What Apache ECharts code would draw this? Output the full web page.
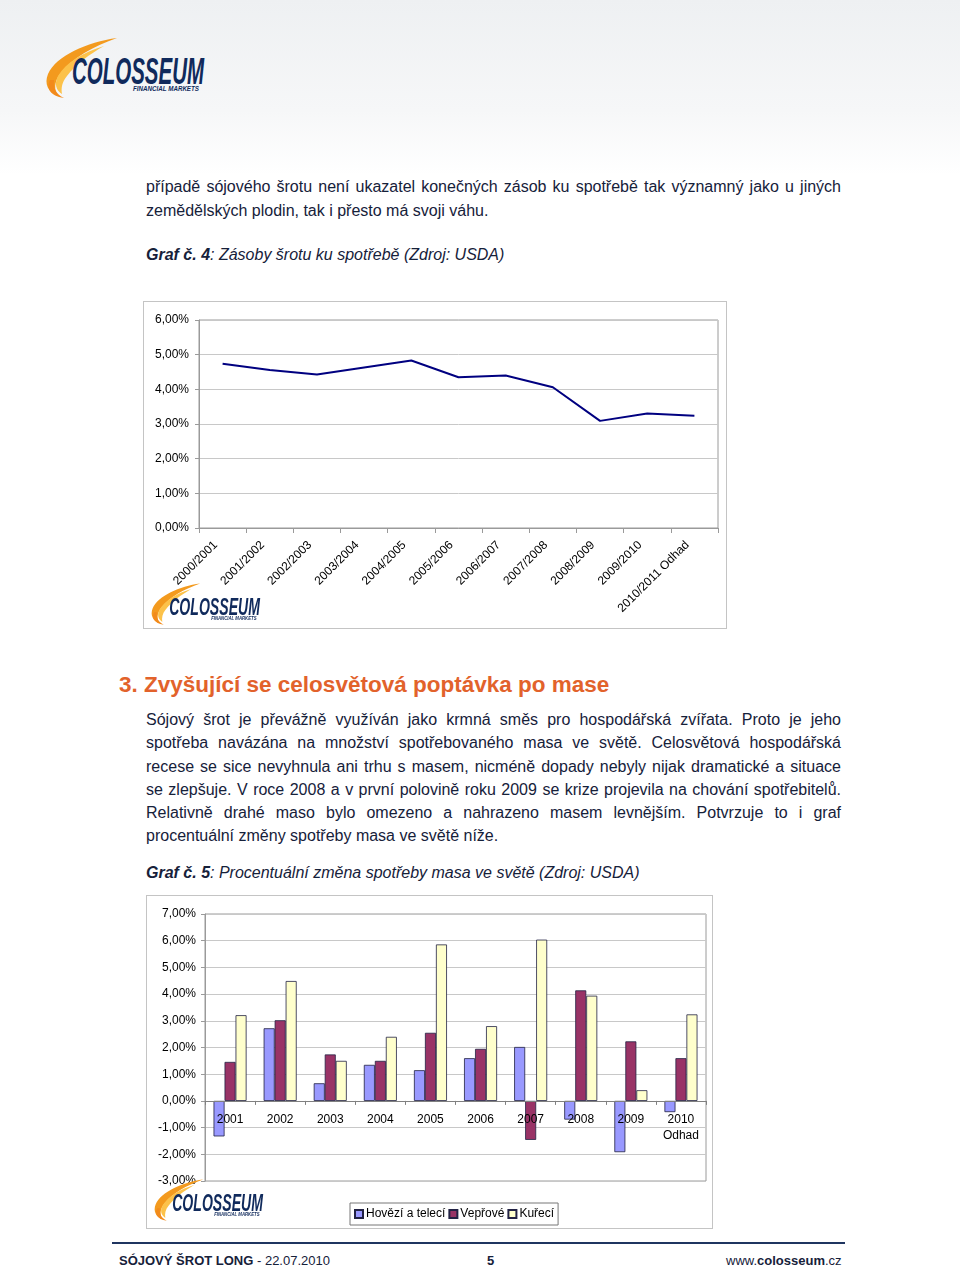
<!DOCTYPE html>
<html>
<head>
<meta charset="utf-8">
<script src="https://cdn.jsdelivr.net/npm/echarts@6/dist/echarts.min.js"></script>
<style>
  html, body { margin: 0; padding: 0; }
  body { width: 960px; height: 1271px; position: relative; overflow: hidden;
         background: linear-gradient(to bottom, #eef0f2 0px, #f6f7f8 110px, #ffffff 175px);
         font-family: "Liberation Sans", Arial, sans-serif; color: #16213a; }
  .abs { position: absolute; }
  .line { position: absolute; left: 146px; width: 695px; font-size: 16px; line-height: 23px; white-space: nowrap; }
  .j { text-align: justify; text-align-last: justify; white-space: normal; }
  .cap { position: absolute; left: 146px; font-size: 16px; line-height: 23px; font-style: italic; white-space: nowrap; }
  .frame { position: absolute; border: 1px solid #c4c4c4; background: #fff; box-sizing: border-box; }
  .foot { position: absolute; top: 1252px; font-size: 13px; line-height: 18px; color: #16213a; white-space: nowrap; }
</style>
</head>
<body>
<!-- header logo -->
<div class="abs" id="logoMain" style="left:42px;top:36px;width:170px;height:64px;"></div>

<div class="line j" style="top:175px;">případě sójového šrotu není ukazatel konečných zásob ku spotřebě tak významný jako u jiných</div>
<div class="line" style="top:199px;">zemědělských plodin, tak i přesto má svoji váhu.</div>

<div class="cap" style="top:243px;"><b>Graf č. 4</b>: Zásoby šrotu ku spotřebě (Zdroj: USDA)</div>

<div class="frame" style="left:143px;top:301px;width:584px;height:328px;"></div>
<div class="abs" id="chart1" style="left:143px;top:301px;width:584px;height:328px;"></div>
<div class="abs" id="logoC1" style="left:148px;top:582px;width:118px;height:40px;"></div>

<div class="abs" style="left:119px;top:671px;font-size:22.5px;line-height:28px;font-weight:bold;color:#e2622b;white-space:nowrap;">3. Zvyšující se celosvětová poptávka po mase</div>

<div class="line j" style="top:708px;">Sójový šrot je převážně využíván jako krmná směs pro hospodářská zvířata. Proto je jeho</div>
<div class="line j" style="top:731px;">spotřeba navázána na množství spotřebovaného masa ve světě. Celosvětová hospodářská</div>
<div class="line j" style="top:755px;">recese se sice nevyhnula ani trhu s masem, nicméně dopady nebyly nijak dramatické a situace</div>
<div class="line j" style="top:778px;">se zlepšuje. V roce 2008 a v první polovině roku 2009 se krize projevila na chování spotřebitelů.</div>
<div class="line j" style="top:801px;">Relativně drahé maso bylo omezeno a nahrazeno masem levnějším. Potvrzuje to i graf</div>
<div class="line" style="top:824px;">procentuální změny spotřeby masa ve světě níže.</div>

<div class="cap" style="top:861px;"><b>Graf č. 5</b>: Procentuální změna spotřeby masa ve světě (Zdroj: USDA)</div>

<div class="frame" style="left:146px;top:895px;width:567px;height:334px;"></div>
<div class="abs" id="chart2" style="left:146px;top:895px;width:567px;height:334px;"></div>
<div class="abs" id="logoC2" style="left:151px;top:1178px;width:118px;height:44px;"></div>

<div class="abs" style="left:112px;top:1242px;width:733px;height:2px;background:#1f3560;"></div>
<div class="foot" style="left:119px;"><b>SÓJOVÝ ŠROT LONG</b> - 22.07.2010</div>
<div class="foot" style="left:487px;"><b>5</b></div>
<div class="foot" style="left:726px;">www.<b>colosseum</b>.cz</div>

<script>
// ---------- data ----------
const seasons = ['2000/2001','2001/2002','2002/2003','2003/2004','2004/2005','2005/2006','2006/2007','2007/2008','2008/2009','2009/2010','2010/2011 Odhad'];
const stocksToUse = [4.74, 4.56, 4.43, 4.63, 4.83, 4.35, 4.40, 4.06, 3.09, 3.30, 3.24];
const years = ['2001','2002','2003','2004','2005','2006','2007','2008','2009','2010\nOdhad'];
const beefVeal = [-1.33, 2.72, 0.66, 1.35, 1.15, 1.60, 2.02, -0.70, -1.92, -0.42];
const pork = [1.46, 3.02, 1.74, 1.50, 2.55, 1.95, -1.46, 4.14, 2.23, 1.60];
const chicken = [3.21, 4.49, 1.50, 2.40, 5.86, 2.80, 6.04, 3.94, 0.40, 3.24];
const seriesNames = ['Hovězí a telecí', 'Vepřové', 'Kuřecí'];

// ---------- logo ----------
function logoSVG(w, h) {
  return '<svg xmlns="http://www.w3.org/2000/svg" width="' + w + '" height="' + h + '" viewBox="0 0 170 64">' +
    '<path d="M75,2 C45,6 14,20 6,38 C2,48 6,56 16,60 C12,54 12,46 18,38 C30,22 52,10 75,2 Z" fill="#f39a1e"/>' +
    '<path d="M62,10 C42,16 24,26 16,40 C12,48 14,54 20,58 C19,52 20,46 25,40 C34,28 48,18 62,10 Z" fill="#fcc24a"/>' +
    '<path d="M8,44 C4,52 8,60 22,62 C14,58 11,52 12,44 Z" fill="#f28a1b"/>' +
    '<text x="30" y="48" font-family="Liberation Sans Narrow, Liberation Sans, Arial" font-size="36" font-weight="bold" font-style="italic" fill="#102a5c" textLength="132" lengthAdjust="spacingAndGlyphs">COLOSSEUM</text>' +
    '<text x="91" y="55" font-family="Liberation Sans, Arial" font-size="7" font-weight="bold" font-style="italic" fill="#102a5c" textLength="66" lengthAdjust="spacingAndGlyphs">FINANCIAL MARKETS</text>' +
    '</svg>';
}
document.getElementById('logoMain').innerHTML = logoSVG(170, 64);
document.getElementById('logoC1').innerHTML = logoSVG(118, 44);
document.getElementById('logoC2').innerHTML = logoSVG(118, 44);

const pct = v => v.toFixed(2).replace('.', ',') + '%';
const axisFont = { fontFamily: 'Liberation Sans, Arial', fontSize: 12, color: '#000' };

// ---------- chart 1 ----------
const c1 = echarts.init(document.getElementById('chart1'), null, { renderer: 'canvas' });
c1.setOption({
  animation: false,
  grid: { left: 56, right: 9, top: 19, bottom: 101, show: true, borderColor: '#9a9a9a', borderWidth: 1 },
  xAxis: {
    type: 'category', data: seasons, boundaryGap: true,
    axisLine: { lineStyle: { color: '#9a9a9a' } },
    axisTick: { show: true, length: 5, lineStyle: { color: '#9a9a9a' } },
    axisLabel: Object.assign({ rotate: 45, margin: 8, interval: 0, padding: [0, 10, 0, 0] }, axisFont)
  },
  yAxis: {
    type: 'value', min: 0, max: 6, interval: 1,
    axisLine: { show: true, lineStyle: { color: '#9a9a9a' } },
    axisTick: { show: true, length: 4, lineStyle: { color: '#9a9a9a' } },
    splitLine: { lineStyle: { color: '#c8c8c8' } },
    axisLabel: Object.assign({ formatter: pct, margin: 10 }, axisFont)
  },
  series: [{
    type: 'line', data: stocksToUse, symbol: 'none',
    lineStyle: { color: '#000080', width: 2 }
  }]
});

// ---------- chart 2 ----------
const c2El = document.getElementById('chart2');
const c2 = echarts.init(c2El, null, { renderer: 'canvas' });
const barColors = ['#9999ff', '#993366', '#ffffcc'];
const barData = [beefVeal, pork, chicken];
const g2 = { left: 59, right: 7, top: 19, bottom: 48 };
const yMin2 = -3, yMax2 = 7;
const plotH2 = c2El.clientHeight - g2.top - g2.bottom;
const zeroOffset = -plotH2 * (0 - yMin2) / (yMax2 - yMin2);
c2.setOption({
  animation: false,
  grid: Object.assign({ show: true, borderColor: '#9a9a9a', borderWidth: 1 }, g2),
  legend: {
    left: 204, top: 308, orient: 'horizontal',
    borderColor: '#777', borderWidth: 1, padding: [5, 4, 5, 4],
    itemWidth: 8, itemHeight: 8, itemGap: 3,
    icon: 'rect',
    textStyle: { fontFamily: 'Liberation Sans, Arial', fontSize: 12, color: '#000', padding: [0, 0, 0, -2] },
    data: seriesNames
  },
  xAxis: {
    type: 'category', data: years, offset: zeroOffset, z: 5,
    axisLine: { onZero: false, lineStyle: { color: '#808080' } },
    axisTick: { show: true, length: 4, lineStyle: { color: '#808080' } },
    axisLabel: Object.assign({ margin: 11, interval: 0, lineHeight: 16 }, axisFont)
  },
  yAxis: {
    type: 'value', min: yMin2, max: yMax2, interval: 1,
    axisLine: { show: true, lineStyle: { color: '#9a9a9a' } },
    axisTick: { show: true, length: 4, lineStyle: { color: '#9a9a9a' } },
    splitLine: { lineStyle: { color: '#c8c8c8' } },
    axisLabel: Object.assign({ formatter: pct, margin: 9 }, axisFont)
  },
  series: seriesNames.map((n, i) => ({
    name: n, type: 'bar', data: barData[i], barWidth: 11, barGap: '0%', z: 2,
    itemStyle: { color: barColors[i], borderColor: '#222244', borderWidth: 0.8 }
  }))
});
</script>
</body>
</html>
